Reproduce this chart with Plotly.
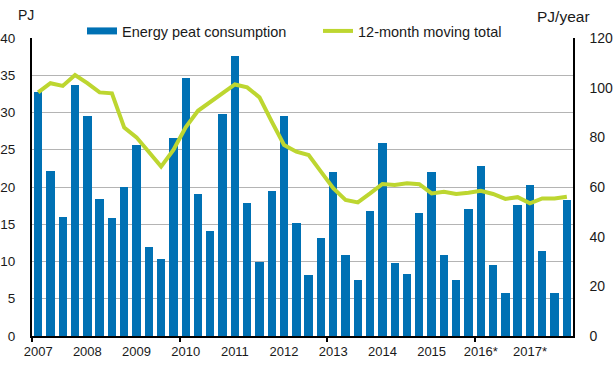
import plotly.graph_objects as go

# ---- data (quarterly, 2007 Q1 .. 2017 Q4) ----
year_labels = ["2007", "2008", "2009", "2010", "2011", "2012",
               "2013", "2014", "2015", "2016*", "2017*"]
consumption = [32.7, 22.1, 16.0, 33.7,
               29.5, 18.4, 15.8, 20.0,
               25.6, 11.9, 10.3, 26.6,
               34.6, 19.1, 14.1, 29.8,
               37.6, 17.9, 9.9, 19.5,
               29.5, 15.2, 8.2, 13.2,
               22.0, 10.9, 7.5, 16.8,
               25.9, 9.8, 8.3, 16.5,
               22.0, 10.9, 7.5, 17.0,
               22.8, 9.5, 5.8, 17.6,
               20.3, 11.4, 5.8, 18.3]
moving_total = [98.1, 101.8, 100.7, 105.1,
                101.8, 98.1, 97.7, 83.9,
                80.0, 74.2, 68.2, 74.9,
                84.0, 90.7, 94.3, 97.7,
                101.3, 100.1, 96.1, 86.3,
                76.9, 74.2, 72.9, 66.2,
                59.5, 54.8, 53.8, 57.4,
                61.2, 60.8, 61.5, 61.1,
                57.4, 58.1, 57.2, 57.7,
                58.5, 57.2, 55.2, 55.9,
                53.4, 55.4, 55.4, 56.1]
bar_name = "Energy peat consumption"
line_name = "12-month moving total"

BAR = "#0071b4"
LINE = "#bdd630"
TXT = "#1a1a1a"
FONT = "Liberation Sans, Arial, sans-serif"

n = len(consumption)
xs = list(range(n))
label_pos = [i * 4 for i in range(len(year_labels))]
boundary_pos = [i - 0.5 for i in range(0, n, 12)]

fig = go.Figure()
fig.add_trace(go.Bar(x=xs, y=consumption, marker=dict(color=BAR, line=dict(width=0)),
                     width=0.68, showlegend=False, hoverinfo="skip"))
fig.add_trace(go.Scatter(x=xs, y=moving_total, mode="lines", yaxis="y2",
                         line=dict(color=LINE, width=4), showlegend=False))
# legend entries
fig.add_trace(go.Scatter(x=[None], y=[None], mode="lines", name=bar_name,
                         line=dict(color=BAR, width=7), legend="legend"))
fig.add_trace(go.Scatter(x=[None], y=[None], mode="lines", name=line_name,
                         xaxis="x2", yaxis="y2",
                         line=dict(color=LINE, width=4), legend="legend2"))

W, H = 614, 391
L, R, T, B = 32, 41, 38, 55
pw, ph = W - L - R, H - T - B

def px_x(p):
    return (p - L) / pw

def px_y(p):
    return (H - B - p) / ph

fig.update_layout(
    width=W, height=H,
    margin=dict(l=L, r=R, t=T, b=B, pad=0, autoexpand=False),
    paper_bgcolor="white", plot_bgcolor="white",
    font=dict(family=FONT, size=13, color=TXT),
    bargap=0,
    xaxis=dict(range=[-0.5, n - 0.5], tickmode="array", tickvals=label_pos,
               ticktext=year_labels, ticks="", showgrid=False, zeroline=False,
               showline=True, linecolor="black", linewidth=2, automargin=False,
               ticklabelstandoff=2, tickfont=dict(size=13)),
    xaxis2=dict(range=[-0.5, n - 0.5], overlaying="x", anchor="y", side="bottom",
                tickmode="array", tickvals=boundary_pos, ticks="outside",
                ticklen=5, tickwidth=2, tickcolor="black", showticklabels=False,
                showgrid=False, zeroline=False, showline=False, automargin=False),
    yaxis=dict(range=[0, 40], dtick=5, showgrid=True, gridcolor="#b4b4b4",
               gridwidth=1, zeroline=False, showline=True, linecolor="black",
               linewidth=2, ticks="", ticklabelstandoff=12, automargin=False,
               tickfont=dict(size=13.5)),
    yaxis2=dict(range=[0, 120], dtick=20, overlaying="y", side="right",
                anchor="x", showgrid=False, zeroline=False, showline=True,
                linecolor="black", linewidth=1.5, ticks="", automargin=False,
                ticklabelstandoff=12, tickfont=dict(size=14)),
    legend=dict(x=px_x(82), xanchor="left", y=px_y(31), yanchor="middle",
                orientation="h", bgcolor="rgba(0,0,0,0)", borderwidth=0,
                font=dict(size=14.5, color=TXT)),
    legend2=dict(x=px_x(318), xanchor="left", y=px_y(31), yanchor="middle",
                 orientation="h", bgcolor="rgba(0,0,0,0)", borderwidth=0,
                 font=dict(size=14.5, color=TXT)),
    shapes=[dict(type="line", xref="paper", yref="y", layer="between",
                 x0=px_x(55), x1=px_x(533), y0=40, y1=40,
                 line=dict(color="white", width=3))],
    annotations=[
        dict(text="PJ", xref="paper", yref="paper", x=px_x(16), y=px_y(15),
             xanchor="left", yanchor="middle", showarrow=False,
             font=dict(size=14, color=TXT)),
        dict(text="PJ/year", xref="paper", yref="paper", x=px_x(535), y=px_y(16),
             xanchor="left", yanchor="middle", showarrow=False,
             font=dict(size=15.5, color=TXT)),
    ],
)

fig.write_html("out.html", config={"displayModeBar": False},
               post_script="document.body.style.margin='0';document.body.style.padding='0';")
